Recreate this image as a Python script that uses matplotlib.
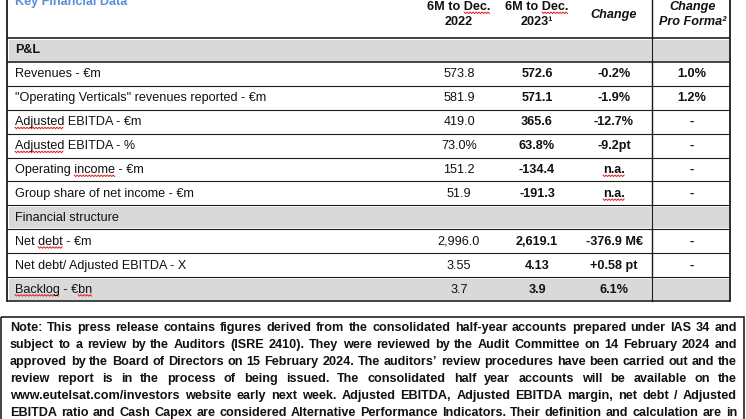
import matplotlib
matplotlib.use("Agg")
import matplotlib.pyplot as plt
from matplotlib.font_manager import FontProperties
from matplotlib.patches import Rectangle
import numpy as np

# ---------------- data ----------------
title = "Key Financial Data"
col_headers = [["6M to Dec.", "2022"], ["6M to Dec.", "2023¹"], ["Change"], ["Change", "Pro Forma²"]]
row_labels = ["P&L", "Revenues - €m", '"Operating Verticals" revenues reported - €m',
              "Adjusted EBITDA - €m", "Adjusted EBITDA - %", "Operating income - €m",
              "Group share of net income - €m", "Financial structure", "Net debt - €m",
              "Net debt/ Adjusted EBITDA - X", "Backlog - €bn"]
values_2022 = ["", "573.8", "581.9", "419.0", "73.0%", "151.2", "51.9", "", "2,996.0", "3.55", "3.7"]
values_2023 = ["", "572.6", "571.1", "365.6", "63.8%", "-134.4", "-191.3", "", "2,619.1", "4.13", "3.9"]
change = ["", "-0.2%", "-1.9%", "-12.7%", "-9.2pt", "n.a.", "n.a.", "", "-376.9 M€", "+0.58 pt", "6.1%"]
change_pro_forma = ["", "1.0%", "1.2%", "-", "-", "-", "-", "", "-", "-", ""]
shaded_rows = [0, 7, 10]
bold_label_rows = [0]
note_lines = [
    "Note: This press release contains figures derived from the consolidated half-year accounts prepared under IAS 34 and",
    "subject to a review by the Auditors (ISRE 2410). They were reviewed by the Audit Committee on 14 February 2024 and",
    "approved by the Board of Directors on 15 February 2024. The auditors’ review procedures have been carried out and the",
    "review report is in the process of being issued. The consolidated half year accounts will be available on the",
    "www.eutelsat.com/investors website early next week. Adjusted EBITDA, Adjusted EBITDA margin, net debt / Adjusted",
    "EBITDA ratio and Cash Capex are considered Alternative Performance Indicators. Their definition and calculation are in",
]
# words flagged by spell-check (red wavy underline): (row index, word)
squiggles = [(3, "Adjusted"), (4, "Adjusted"), (5, "income"), (8, "debt"), (10, "Backlog"), (10, "bn")]

# ---------------- layout ----------------
W, H, DPI = 746, 419, 100
FS = 9.1
FAM = ['Liberation Sans', 'DejaVu Sans']
LINE = '#1a1a1a'
GRAY = '#d9d9d9'
px = 72.0 / DPI

fig = plt.figure(figsize=(W / DPI, H / DPI), dpi=DPI)
ax = fig.add_axes([0, 0, 1, 1])
ax.set_xlim(0, W)
ax.set_ylim(H, 0)
ax.axis('off')
renderer = fig.canvas.get_renderer()

def width(s, weight='normal', style='normal', size=FS):
    prop = FontProperties(family=FAM, weight=weight, style=style, size=size)
    w1, _, _ = renderer.get_text_width_height_descent(s + "x", prop, ismath=False)
    w2, _, _ = renderer.get_text_width_height_descent("x", prop, ismath=False)
    return w1 - w2

def squiggle(x0, x1, y):
    xs = np.arange(x0, x1 + 0.1, 1.5)
    ys = y + np.where(np.arange(len(xs)) % 2 == 0, 0.0, 1.6)
    ax.plot(xs, ys, color='#e02020', lw=0.7, solid_joinstyle='miter')

x_left, x_sep, x_right = 7, 652, 730
col_x = [459, 537, 614, 692]
label_x = 15
edges = np.linspace(38, 301, len(row_labels) + 1)

# title (mostly cropped at top, as in the source)
ax.text(15, 4.5, title, color='#5b8fd6', fontsize=FS, fontweight='bold', family=FAM,
        ha='left', va='baseline')

# shading
for r in shaded_rows:
    y0, y1 = edges[r] + 1.8, edges[r + 1] - 1.3
    ax.add_patch(Rectangle((x_left + 2, y0), x_sep - x_left - 3.5, y1 - y0, color=GRAY, lw=0, zorder=0))
    ax.add_patch(Rectangle((x_sep + 2, y0), x_right - x_sep - 3.5, y1 - y0, color=GRAY, lw=0, zorder=0))

# horizontal lines
for i, y in enumerate(edges):
    lw = 1.6 if i in (0, 1, len(edges) - 1) else 1.1
    ax.plot([x_left, x_right], [y, y], color=LINE, lw=lw * px, solid_capstyle='butt')
# vertical lines
ax.plot([x_left, x_left], [0, edges[-1]], color=LINE, lw=1.8 * px)
ax.plot([x_sep, x_sep], [0, edges[-1]], color=LINE, lw=1.4 * px)
ax.plot([x_right, x_right], [0, edges[-1]], color=LINE, lw=1.8 * px)

# headers
for j, hdr in enumerate(col_headers):
    italic = 'italic' if j >= 2 else 'normal'
    ys = [15] if len(hdr) == 1 else [7, 22]
    for s, y in zip(hdr, ys):
        ax.text(col_x[j] + (1 if j == 3 else 0), y, s, fontsize=FS, fontweight='bold', fontstyle=italic,
                family=FAM, ha='center', va='center', color='#111111')
    if j < 2:
        w_full = width(hdr[0], 'bold')
        w_pre = width("6M to ", 'bold')
        x0 = col_x[j] - w_full / 2 + w_pre
        squiggle(x0, x0 + width("Dec.", 'bold'), 12)

# rows
for i, lab in enumerate(row_labels):
    yc = (edges[i] + edges[i + 1]) / 2 + 0.5
    ax.text(label_x, yc, lab, fontsize=FS, family=FAM, ha='left', va='center', color='#111111',
            fontweight='bold' if i in bold_label_rows else 'normal')
    ax.text(col_x[0], yc, values_2022[i], fontsize=FS, family=FAM, ha='center', va='center', color='#111111')
    ax.text(col_x[1], yc, values_2023[i], fontsize=FS, family=FAM, ha='center', va='center',
            fontweight='bold', color='#111111')
    ax.text(col_x[2], yc, change[i], fontsize=FS, family=FAM, ha='center', va='center',
            fontweight='bold', color='#111111')
    ax.text(col_x[3], yc, change_pro_forma[i], fontsize=FS, family=FAM, ha='center', va='center',
            fontweight='bold', color='#111111')
    if change[i] == "n.a.":
        wv = width("n.a.", 'bold')
        squiggle(col_x[2] - wv / 2, col_x[2] + wv / 2, yc + 5)

for r, word in squiggles:
    lab = row_labels[r]
    k = lab.index(word)
    x0 = label_x + width(lab[:k]) if k > 0 else label_x
    yc = (edges[r] + edges[r + 1]) / 2 + 0.5
    squiggle(x0, x0 + width(word), yc + 5)

# note box
ax.add_patch(Rectangle((1, 317), 743, 130, fill=False, ec=LINE, lw=1.6 * px))
nx0, nx1 = 10, 737
for li, line in enumerate(note_lines):
    y = 328 + li * 16.9
    words = line.split(" ")
    ws = [width(w, 'bold') for w in words]
    gap = (nx1 - nx0 - sum(ws)) / (len(words) - 1)
    x = nx0
    for w, wd in zip(words, ws):
        ax.text(x, y, w, fontsize=FS, fontweight='bold', family=FAM, ha='left', va='center', color='#111111')
        x += wd + gap

fig.savefig("out.png", dpi=DPI)
